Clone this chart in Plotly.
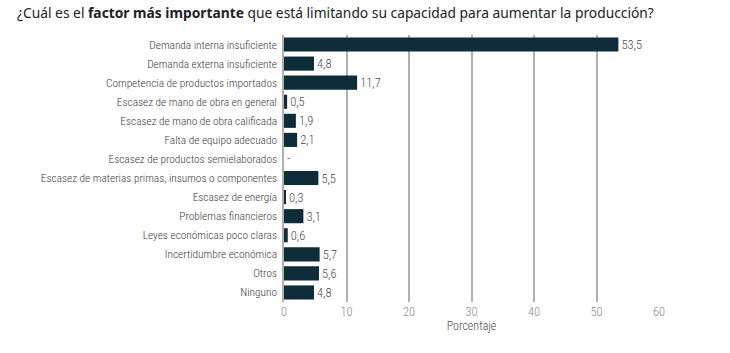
import plotly.graph_objects as go

categories = [
    "Demanda interna insuficiente",
    "Demanda externa insuficiente",
    "Competencia de productos importados",
    "Escasez de mano de obra en general",
    "Escasez de mano de obra calificada",
    "Falta de equipo adecuado",
    "Escasez de productos semielaborados",
    "Escasez de materias primas, insumos o componentes",
    "Escasez de energía",
    "Problemas financieros",
    "Leyes económicas poco claras",
    "Incertidumbre económica",
    "Otros",
    "Ninguno",
]
values = [53.5, 4.8, 11.7, 0.5, 1.9, 2.1, 0, 5.5, 0.3, 3.1, 0.6, 5.7, 5.6, 4.8]
labels = ["53,5", "4,8", "11,7", "0,5", "1,9", "2,1", "-", "5,5", "0,3", "3,1", "0,6", "5,7", "5,6", "4,8"]
tick_vals = [0, 10, 20, 30, 40, 50, 60]

title_text = "¿Cuál es el <b>factor más importante</b> que está limitando su capacidad para aumentar la producción?"

COND = "Roboto Condensed, Liberation Sans Narrow, sans-serif"

fig = go.Figure(go.Bar(
    x=values,
    y=categories,
    orientation="h",
    marker=dict(color="#0f2c3b", line=dict(width=0)),
    text=labels,
    textposition="outside",
    constraintext="none",
    textfont=dict(family=COND, size=12.5, color="#4a4a4a", weight=300),
    cliponaxis=False,
    width=0.74,
))

fig.update_layout(
    width=730, height=353,
    margin=dict(l=284, r=71, t=35, b=51),
    paper_bgcolor="white",
    plot_bgcolor="white",
    showlegend=False,
    title=dict(
        text=title_text,
        x=17 / 730, xanchor="left", y=1 - 13 / 353, yanchor="middle",
        font=dict(family="Noto Sans, Lato, sans-serif", size=13.8, color="#222222"),
    ),
    xaxis=dict(
        range=[0, 60],
        tickvals=tick_vals,
        showgrid=True,
        gridcolor="#b0b0b0",
        gridwidth=1.5,
        zeroline=False,
        showline=False,
        automargin=False,
        tickfont=dict(family=COND, size=12.5, color="#8a8a8a", weight=300),
        title=dict(text="Porcentaje", font=dict(family=COND, size=12, color="#4a4a4a", weight=300), standoff=4),
        ticks="",
    ),
    yaxis=dict(
        autorange="reversed",
        showline=True,
        linecolor="#b0b0b0",
        linewidth=1.5,
        ticks="",
        automargin=False,
        ticklabelstandoff=3,
        tickfont=dict(family=COND, size=11.3, color="#3a3a3a", weight=300),
    ),
)

fig.write_html("out.html")
